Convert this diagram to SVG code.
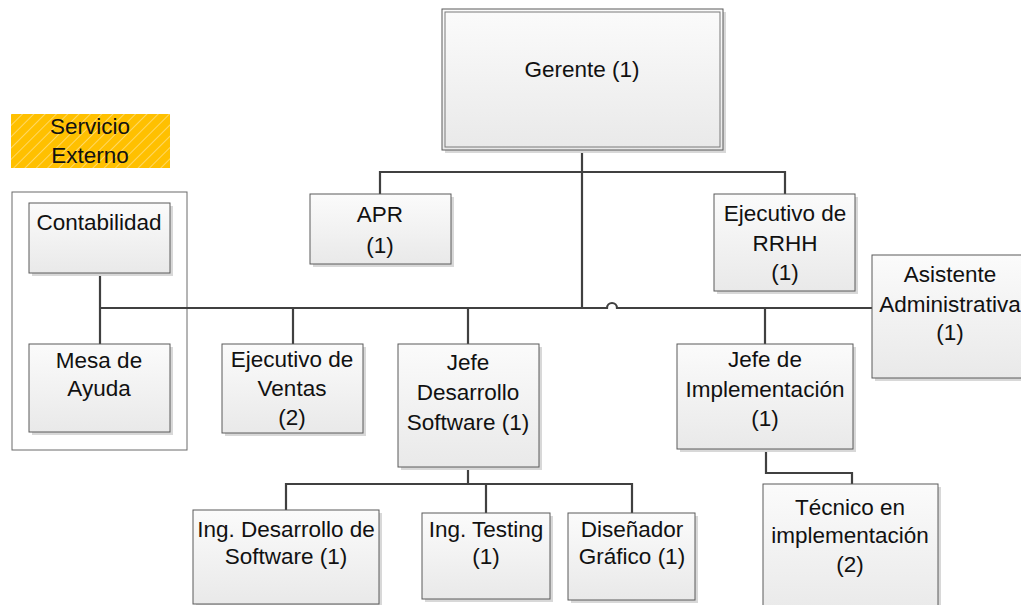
<svg xmlns="http://www.w3.org/2000/svg" width="1021" height="605" viewBox="0 0 1021 605">
  <defs>
    <linearGradient id="boxFill" x1="0" y1="0" x2="0" y2="1">
      <stop offset="0" stop-color="#fbfbfb"/>
      <stop offset="1" stop-color="#e9e9e9"/>
    </linearGradient>
    <pattern id="hatch" width="8" height="8" patternUnits="userSpaceOnUse" patternTransform="rotate(45)">
      <rect width="8" height="8" fill="#ffc000"/>
      <line x1="0" y1="0" x2="0" y2="8" stroke="#ffe9a8" stroke-width="1.2"/>
    </pattern>
    <style>
      .box { fill: url(#boxFill); stroke: #5a5a5a; stroke-width: 1; }
      .shadow { fill: #d8d8d8; }
      .frame { fill: #ffffff; stroke: #6a6a6a; stroke-width: 1; }
      .lbl { font-family: "Liberation Sans", Arial, sans-serif; font-size: 22.5px; fill: #111111; text-anchor: middle; }
      .conn { fill: none; stroke: #404040; stroke-width: 2.2; }
    </style>
  </defs>

  <rect width="1021" height="605" fill="#ffffff"/>

  <!-- external service legend -->
  <g id="servicio-externo">
    <rect x="11" y="114" width="159" height="54" fill="url(#hatch)"/>
    <text class="lbl" x="90" y="134">Servicio</text>
    <text class="lbl" x="90" y="163">Externo</text>
  </g>

  <!-- external group frame -->
  <g id="grupo-externo">
    <rect class="frame" x="12" y="192" width="175" height="258"/>
  </g>

  <!-- connectors -->
  <g id="connectors">
    <path class="conn" d="M582 150 V308"/>
    <path class="conn" d="M380 194 V172 H785 V194"/>
    <path class="conn" d="M100 273 V344"/>
    <path class="conn" d="M100 308 H582"/>
    <path class="conn" d="M582 308 H607 A5 5 0 0 1 617 308 H872"/>
    <path class="conn" d="M293 308 V344"/>
    <path class="conn" d="M468 308 V344"/>
    <path class="conn" d="M765 308 V344"/>
    <path class="conn" d="M468 467 V484"/>
    <path class="conn" d="M286 510 V484 H632 V513"/>
    <path class="conn" d="M486 484 V513"/>
    <path class="conn" d="M766 449 V473 H852 V484"/>
  </g>

  <g id="gerente">
    <rect class="shadow" x="445" y="12" width="281" height="141"/>
    <rect class="box" x="442" y="9" width="281" height="141"/>
    <rect fill="none" stroke="#7a7a7a" stroke-width="1" x="445" y="12" width="275" height="135"/>
    <text class="lbl" x="582" y="77">Gerente (1)</text>
  </g>

  <g id="apr">
    <rect class="shadow" x="313" y="197" width="141" height="70"/>
    <rect class="box" x="310" y="194" width="141" height="70"/>
    <text class="lbl" x="380" y="222">APR</text>
    <text class="lbl" x="380" y="253">(1)</text>
  </g>

  <g id="ejecutivo-rrhh">
    <rect class="shadow" x="717" y="197" width="141" height="97"/>
    <rect class="box" x="714" y="194" width="141" height="97"/>
    <text class="lbl" x="785" y="221">Ejecutivo de</text>
    <text class="lbl" x="785" y="251">RRHH</text>
    <text class="lbl" x="785" y="280">(1)</text>
  </g>

  <g id="asistente">
    <rect class="shadow" x="875" y="258" width="160" height="123"/>
    <rect class="box" x="872" y="255" width="160" height="123"/>
    <text class="lbl" x="950" y="282">Asistente</text>
    <text class="lbl" x="950" y="312">Administrativa</text>
    <text class="lbl" x="950" y="340">(1)</text>
  </g>

  <g id="contabilidad">
    <rect class="shadow" x="32" y="206" width="141" height="70"/>
    <rect class="box" x="29" y="203" width="141" height="70"/>
    <text class="lbl" x="99" y="230">Contabilidad</text>
  </g>

  <g id="mesa-ayuda">
    <rect class="shadow" x="32" y="347" width="141" height="88"/>
    <rect class="box" x="29" y="344" width="141" height="88"/>
    <text class="lbl" x="99" y="368">Mesa de</text>
    <text class="lbl" x="99" y="396">Ayuda</text>
  </g>

  <g id="ejecutivo-ventas">
    <rect class="shadow" x="225" y="347" width="141" height="89"/>
    <rect class="box" x="222" y="344" width="141" height="89"/>
    <text class="lbl" x="292" y="367">Ejecutivo de</text>
    <text class="lbl" x="292" y="396">Ventas</text>
    <text class="lbl" x="292" y="425">(2)</text>
  </g>

  <g id="jefe-desarrollo">
    <rect class="shadow" x="401" y="347" width="141" height="123"/>
    <rect class="box" x="398" y="344" width="141" height="123"/>
    <text class="lbl" x="468" y="370">Jefe</text>
    <text class="lbl" x="468" y="400">Desarrollo</text>
    <text class="lbl" x="468" y="430">Software (1)</text>
  </g>

  <g id="jefe-implementacion">
    <rect class="shadow" x="680" y="347" width="176" height="105"/>
    <rect class="box" x="677" y="344" width="176" height="105"/>
    <text class="lbl" x="765" y="367">Jefe de</text>
    <text class="lbl" x="765" y="397">Implementación</text>
    <text class="lbl" x="765" y="426">(1)</text>
  </g>

  <g id="tecnico-implementacion">
    <rect class="shadow" x="766" y="487" width="175" height="130"/>
    <rect class="box" x="763" y="484" width="175" height="130"/>
    <text class="lbl" x="850" y="515">Técnico en</text>
    <text class="lbl" x="850" y="543">implementación</text>
    <text class="lbl" x="850" y="572">(2)</text>
  </g>

  <g id="ing-desarrollo">
    <rect class="shadow" x="196" y="513" width="186" height="94"/>
    <rect class="box" x="193" y="510" width="186" height="94"/>
    <text class="lbl" x="286" y="537">Ing. Desarrollo de</text>
    <text class="lbl" x="286" y="564">Software (1)</text>
  </g>

  <g id="ing-testing">
    <rect class="shadow" x="425" y="516" width="128" height="86"/>
    <rect class="box" x="422" y="513" width="128" height="86"/>
    <text class="lbl" x="486" y="537">Ing. Testing</text>
    <text class="lbl" x="486" y="564">(1)</text>
  </g>

  <g id="disenador-grafico">
    <rect class="shadow" x="571" y="516" width="127" height="87"/>
    <rect class="box" x="568" y="513" width="127" height="87"/>
    <text class="lbl" x="632" y="537">Diseñador</text>
    <text class="lbl" x="632" y="564">Gráfico (1)</text>
  </g>
</svg>
